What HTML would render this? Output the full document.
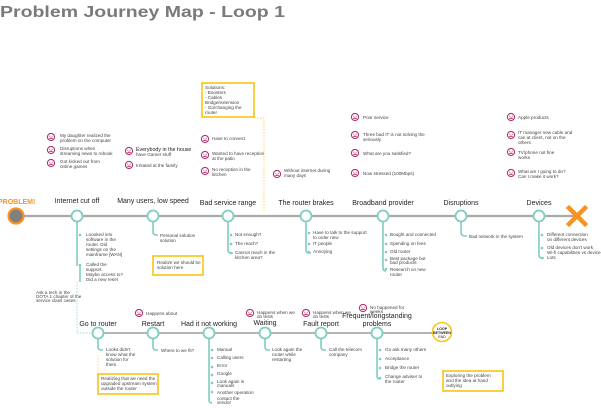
<!DOCTYPE html>
<html><head><meta charset="utf-8"><style>
html,body{margin:0;padding:0;background:#fff;}
svg{display:block;font-family:"Liberation Sans",sans-serif;}
.t{font-size:4.6px;fill:#444;}
.l{font-size:7px;fill:#222;}
.f{fill:none;stroke:#b5336e;stroke-width:1.1;}
.br{fill:none;stroke:#7ecdc0;stroke-width:1.6;}
.d{fill:#7ecdc0;}
</style></head><body>
<svg width="601" height="408" viewBox="0 0 601 408" xmlns="http://www.w3.org/2000/svg">
<defs>
<g id="sad"><circle r="3.6" class="f"/><circle cx="-1.2" cy="-0.8" r="0.5" fill="#b5336e"/><circle cx="1.2" cy="-0.8" r="0.5" fill="#b5336e"/><path d="M-1.6 1.8 Q0 0.6 1.6 1.8" class="f" stroke-width="0.8"/></g>
</defs>
<text x="0" y="17" font-size="16" font-weight="bold" fill="#7a7a7a" textLength="285" lengthAdjust="spacingAndGlyphs">Problem Journey Map - Loop 1</text>

<!-- main line -->
<line x1="16" y1="216" x2="575" y2="216" stroke="#aaa" stroke-width="2.2"/>
<circle cx="16" cy="216" r="7.5" fill="#808080" stroke="#f7931e" stroke-width="2.2"/>
<text x="-2" y="204" font-size="7" font-weight="bold" fill="#f7931e">PROBLEM!</text>
<g stroke="#f7931e" stroke-width="4.5" stroke-linecap="square"><line x1="569" y1="208" x2="585" y2="224"/><line x1="585" y1="208" x2="569" y2="224"/></g>

<!-- main branches -->
<g class="br">
<path d="M77 222 V266"/><path d="M153 222 V232 q0 3 3 3 h2"/><path d="M228 222 V250 q0 3 3 3 h2"/><path d="M306 222 V250 q0 3 3 3 h2"/><path d="M383 222 V268 q0 3 3 3"/><path d="M461 222 V232 q0 4 4 4 h2"/><path d="M539 222 V255 q0 3 3 3 h2"/>
</g>
<g class="d">
<circle cx="80" cy="235" r="1.3"/><circle cx="80" cy="265" r="1.3"/>
<circle cx="231" cy="235" r="1.3"/><circle cx="231" cy="244" r="1.3"/><circle cx="231" cy="253" r="1.3"/>
<circle cx="309" cy="233" r="1.3"/><circle cx="309" cy="244" r="1.3"/><circle cx="309" cy="252" r="1.3"/>
<circle cx="386" cy="235" r="1.3"/><circle cx="386" cy="244" r="1.3"/><circle cx="386" cy="252" r="1.3"/><circle cx="386" cy="260" r="1.3"/><circle cx="386" cy="269" r="1.3"/>
<circle cx="542" cy="235" r="1.3"/><circle cx="542" cy="248" r="1.3"/><circle cx="542" cy="258" r="1.3"/>
</g>
<g fill="#fff" stroke="#7ecdc0" stroke-width="1.8">
<circle cx="77" cy="216" r="5.5"/><circle cx="153" cy="216" r="5.5"/><circle cx="228" cy="216" r="5.5"/><circle cx="306" cy="216" r="5.5"/><circle cx="383" cy="216" r="5.5"/><circle cx="461" cy="216" r="5.5"/><circle cx="539" cy="216" r="5.5"/>
</g>
<g class="l" text-anchor="middle">
<text x="77" y="203">Internet cut off</text><text x="153" y="203">Many users, low speed</text><text x="228" y="205">Bad service range</text><text x="306" y="205">The router brakes</text><text x="383" y="205">Broadband provider</text><text x="461" y="205">Disruptions</text><text x="539" y="205">Devices</text>
</g>
<g class="t">
<text x="86" y="236">Loooked into</text><text x="86" y="241">software in the</text><text x="86" y="246">router. Did</text><text x="86" y="251">settings on the</text><text x="86" y="256">mainframe [WAN]</text>
<text x="86" y="266">Called the</text><text x="86" y="271">support.</text><text x="86" y="276">Maybe access to?</text><text x="86" y="281">Did a new reset</text>
<text x="160" y="237">Personal solution</text><text x="160" y="242">solution</text>
<text x="235" y="236">Not enough?</text><text x="235" y="245">The reach?</text><text x="235" y="254">Cannot reach in the</text><text x="235" y="259">kitchen area?</text>
<text x="313" y="234">Have to talk to the support</text><text x="313" y="239">to order new</text><text x="313" y="245">IT people</text><text x="313" y="253">Annoying</text>
<text x="390" y="236">Bought and connected</text><text x="390" y="245">Spending on fees</text><text x="390" y="253">Old router</text><text x="390" y="260">Best package but</text><text x="390" y="264">bad products</text><text x="390" y="271">Research on new</text><text x="390" y="276">router</text>
<text x="469" y="238">Bad network in the system</text>
<text x="547" y="236">Different connection</text><text x="547" y="241">on different devices</text><text x="547" y="249">Old devices don't work</text><text x="547" y="254">Wi-fi capabilities vs devices</text><text x="547" y="259">Lots</text>
</g>

<!-- yellow boxes -->
<g fill="#fff" stroke="#f5c518" stroke-width="1.6">
<rect x="153" y="256" width="50" height="19"/><rect x="202" y="83" width="52" height="34"/><rect x="98" y="374" width="60" height="20"/><rect x="443" y="371" width="60" height="20"/>
</g>
<g class="t">
<text x="157" y="264">Realize we should be</text><text x="157" y="269">solution here</text>
<text x="205" y="89">Solutions:</text><text x="205" y="94">- Boosters</text><text x="205" y="99">- Cables</text><text x="205" y="104">  Bridge/extension</text><text x="205" y="109">- Go/changing the</text><text x="205" y="114">  router</text>
<text x="101" y="380">Realizing that we need the</text><text x="101" y="385">upgraded upstream system</text><text x="101" y="390">outside the router</text>
<text x="446" y="377">Exploring the problem</text><text x="446" y="382">and the idea at hand</text><text x="446" y="387">outlying</text>
</g>
<path d="M254 118 H264 V211" fill="none" stroke="#f5c518" stroke-width="0.7" stroke-dasharray="1.5,1.5"/>

<!-- emotions -->
<g>
<use href="#sad" x="51" y="137"/><use href="#sad" x="51" y="150"/><use href="#sad" x="51" y="163"/>
<use href="#sad" x="129" y="151"/><use href="#sad" x="129" y="165"/>
<use href="#sad" x="205" y="139"/><use href="#sad" x="205" y="155"/><use href="#sad" x="205" y="171"/>
<use href="#sad" x="277" y="174"/>
<use href="#sad" x="355" y="117"/><use href="#sad" x="355" y="135"/><use href="#sad" x="355" y="153"/><use href="#sad" x="355" y="173"/>
<use href="#sad" x="511" y="117"/><use href="#sad" x="511" y="135"/><use href="#sad" x="511" y="152"/><use href="#sad" x="511" y="173"/>
<use href="#sad" x="139" y="313"/><use href="#sad" x="250" y="313"/><use href="#sad" x="306" y="313"/><use href="#sad" x="363" y="308"/>
</g>
<g class="t">
<text x="60" y="137">My daughter realized the</text><text x="60" y="142">problem on the computer</text>
<text x="60" y="150">Disruptions when</text><text x="60" y="155">streaming news to rebook</text>
<text x="60" y="163">Got kicked out from</text><text x="60" y="168">online games</text>
<text x="136" y="151" font-size="5.3" fill="#222">Everybody in the house</text><text x="136" y="156">have Gamer stuff</text>
<text x="136" y="167">Irritated at the family</text>
<text x="212" y="140">Have to connect</text>
<text x="212" y="155">Wanted to have reception</text><text x="212" y="160">at the patio</text>
<text x="212" y="171">No reception in the</text><text x="212" y="176">kitchen</text>
<text x="284" y="172">Without internet during</text><text x="284" y="177">many days</text>
<text x="363" y="119">Poor service</text>
<text x="363" y="136">Three bad IT is not solving the</text><text x="363" y="141">seriously</text>
<text x="363" y="155">What are you satisfied?</text>
<text x="363" y="175">Now stressed (100Mbps)</text>
<text x="518" y="119">Apple products</text>
<text x="518" y="134">IT manager new cable and</text><text x="518" y="139">can at client, not on the</text><text x="518" y="144">others</text>
<text x="518" y="154">TV/phone not fine</text><text x="518" y="159">works</text>
<text x="518" y="173">What am I going to do?</text><text x="518" y="178">Can I make it work?</text>
<text x="146" y="315">Happens about</text>
<text x="257" y="314">Happens when we</text><text x="257" y="318">do tests</text>
<text x="313" y="314">Happens when we</text><text x="313" y="318">do tests</text>
<text x="370" y="309">No happened for</text><text x="370" y="313">weeks</text>
<text x="36" y="294">Ask a tech in the</text><text x="36" y="298">DOTA 1 chapter of the</text><text x="36" y="302">service class cases</text>
</g>

<!-- second line -->
<path d="M80 266 V282" class="br"/>
<path d="M77 282 V333 H92" fill="none" stroke="#7ecdc0" stroke-width="0.7" stroke-dasharray="1.5,1.5"/>
<line x1="98" y1="333" x2="432" y2="333" stroke="#aaa" stroke-width="1.8"/>
<g class="br">
<path d="M98 339 V347 q0 3 3 3 h2"/><path d="M153 339 V347 q0 3 3 3 h2"/><path d="M209 339 V400 q0 3 3 3"/><path d="M265 339 V347 q0 3 3 3 h2"/><path d="M321 339 V347 q0 3 3 3 h2"/><path d="M377 339 V376 q0 3 3 3"/>
</g>
<path d="M98 355 V374" fill="none" stroke="#f5c518" stroke-width="0.6" stroke-dasharray="1.5,1.5"/>
<g class="d">
<circle cx="212" cy="350" r="1.3"/><circle cx="212" cy="358" r="1.3"/><circle cx="212" cy="367" r="1.3"/><circle cx="212" cy="375" r="1.3"/><circle cx="212" cy="383" r="1.3"/><circle cx="212" cy="392" r="1.3"/>
<circle cx="380" cy="350" r="1.3"/><circle cx="380" cy="359" r="1.3"/><circle cx="380" cy="368" r="1.3"/><circle cx="380" cy="378" r="1.3"/>
</g>
<g fill="#fff" stroke="#7ecdc0" stroke-width="1.8">
<circle cx="98" cy="333" r="5.5"/><circle cx="153" cy="333" r="5.5"/><circle cx="209" cy="333" r="5.5"/><circle cx="265" cy="333" r="5.5"/><circle cx="321" cy="333" r="5.5"/><circle cx="377" cy="333" r="5.5"/>
</g>
<circle cx="442" cy="332" r="9.5" fill="#fff" stroke="#f5c518" stroke-width="1.6"/>
<text x="442" y="330" font-size="3.6" font-weight="bold" text-anchor="middle" fill="#222">LOOP</text><text x="442" y="334" font-size="3.6" font-weight="bold" text-anchor="middle" fill="#222">BETWEEN</text><text x="442" y="338" font-size="3.6" text-anchor="middle" fill="#222">END</text>
<g class="l" text-anchor="middle" font-size="6.5">
<text x="98" y="326">Go to router</text><text x="153" y="326">Restart</text><text x="209" y="326">Had it not working</text><text x="265" y="325">Waiting</text><text x="321" y="326">Fault report</text><text x="377" y="318">Frequent/longstanding</text><text x="377" y="326">problems</text>
</g>
<g class="t">
<text x="106" y="351">Looks didn't</text><text x="106" y="356">know what the</text><text x="106" y="361">solution for</text><text x="106" y="366">them.</text>
<text x="161" y="352">Where to we fit?</text>
<text x="217" y="351">Manual</text><text x="217" y="359">Calling users</text><text x="217" y="367">Error</text><text x="217" y="375">Google</text><text x="217" y="383">Look again in</text><text x="217" y="387">manuals</text><text x="217" y="394">Another operation</text><text x="217" y="400">contact the</text><text x="217" y="404">vendor</text>
<text x="272" y="351">Look again the</text><text x="272" y="356">router while</text><text x="272" y="361">restarting</text>
<text x="329" y="351">Call the telecom</text><text x="329" y="356">company</text>
<text x="385" y="351">Go ask many others</text><text x="385" y="360">Acceptance</text><text x="385" y="369">Bridge the router</text><text x="385" y="378">Change adviser to</text><text x="385" y="383">the router</text>
</g>
</svg>
</body></html>
